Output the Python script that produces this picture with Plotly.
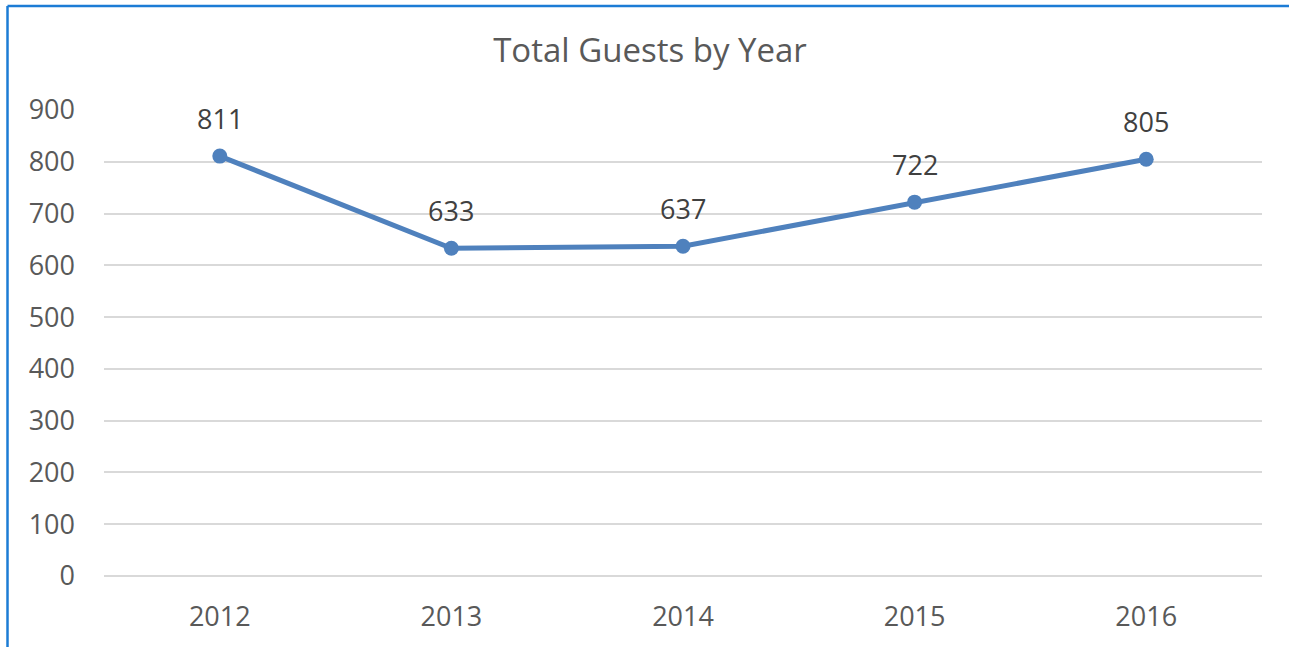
import plotly.graph_objects as go

years = ["2012", "2013", "2014", "2015", "2016"]
guests = [811, 633, 637, 722, 805]
y_ticks = [0, 100, 200, 300, 400, 500, 600, 700, 800, 900]

W, H = 1289, 647
L, R, T, B = 104, 27, 110, 71
FONT = "Open Sans"

fig = go.Figure()
fig.add_trace(go.Scatter(
    x=years, y=guests, mode="lines+markers",
    line=dict(color="#4f81bd", width=5),
    marker=dict(color="#4f81bd", size=15),
    hoverinfo="x+y", showlegend=False,
))

for i, yv in enumerate(guests):
    fig.add_annotation(x=i, y=yv, xref="x", yref="y", text=str(yv), showarrow=False,
                       yshift=38, yanchor="middle",
                       font=dict(family=FONT, size=27, color="#404040"))

pw = W - L - R
ph = H - T - B
left_px, top_px = 7.5, 6
xl = (left_px - L) / pw
yt = (H - B - top_px) / ph
border = dict(color="#1c7cd5", width=2.5)
fig.add_shape(type="line", xref="paper", yref="paper", x0=xl, x1=xl, y0=-1, y1=yt, line=border)
fig.add_shape(type="line", xref="paper", yref="paper", x0=xl, x1=2, y0=yt, y1=yt, line=border)

fig.update_layout(
    width=W, height=H,
    margin=dict(l=L, r=R, t=T, b=B),
    paper_bgcolor="white", plot_bgcolor="white",
    title=dict(text="Total Guests by Year", x=650 / W, xanchor="center",
               xref="container", yref="container", y=1 - 50 / H, yanchor="middle",
               font=dict(family=FONT, size=33, color="#595959")),
    xaxis=dict(type="category", range=[-0.5, 4.5], showgrid=False,
               showline=False, zeroline=False,
               tickfont=dict(family=FONT, size=27, color="#595959"),
               ticks="", ticklabelstandoff=22),
    yaxis=dict(range=[0, 900], tickvals=y_ticks, showgrid=True,
               gridcolor="#d9d9d9", gridwidth=1.5, zeroline=True,
               zerolinecolor="#d9d9d9", zerolinewidth=1.5, showline=False,
               tickfont=dict(family=FONT, size=27, color="#595959"),
               ticks="", ticklabelstandoff=28),
)

fig.write_html("out.html", config={"displayModeBar": False},
               post_script="document.body.style.margin='0';document.body.style.overflow='hidden';")
